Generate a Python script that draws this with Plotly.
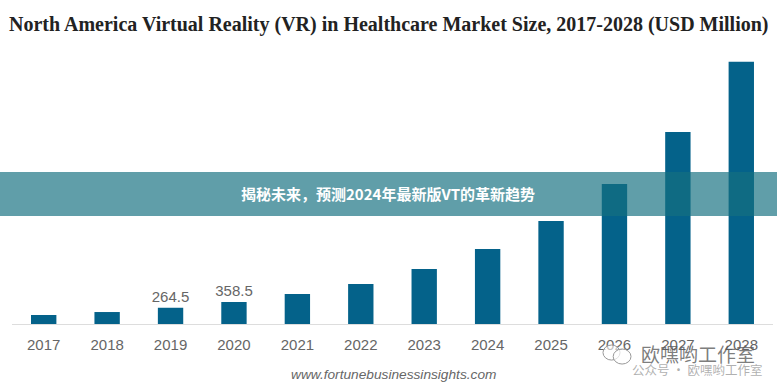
import plotly.graph_objects as go

years = ["2017", "2018", "2019", "2020", "2021", "2022", "2023", "2024", "2025", "2026", "2027", "2028"]
values = [147, 195, 264.5, 358.5, 489, 651, 896, 1221, 1678, 2280, 3127, 4270]
value_labels = ["", "", "264.5", "358.5", "", "", "", "", "", "", "", ""]
title_text = "North America Virtual Reality (VR) in Healthcare Market Size, 2017-2028 (USD Million)"
source_text = "www.fortunebusinessinsights.com"
banner_text = "揭秘未来，预测2024年最新版VT的革新趋势"
mark_main = "欧嘿哟工作室"
mark_sub = "公众号 · 欧嘿哟工作室"

fig = go.Figure(go.Bar(
    x=years, y=values, text=value_labels, textposition="outside", cliponaxis=False,
    constraintext="none",
    textfont=dict(family="Liberation Sans", size=15, color="#666666"),
    marker=dict(color="#04628A", line=dict(width=0)), width=0.4,
))
fig.update_layout(
    width=777, height=388, autosize=False, showlegend=False,
    margin=dict(l=12, r=4, t=40, b=64),
    paper_bgcolor="white", plot_bgcolor="white",
    xaxis=dict(type="category", showline=True, linecolor="#DDDDDD", linewidth=1, ticks="",
               ticklabelstandoff=7, showgrid=False,
               tickfont=dict(family="Liberation Sans", size=15, color="#666666")),
    yaxis=dict(range=[0, 4625], visible=False, showgrid=False),
    shapes=[
        dict(type="rect", xref="paper", yref="paper", x0=-0.02, x1=1.01, y0=(388-64-216)/284, y1=(388-64-172)/284,
             fillcolor="rgba(20,112,128,0.68)", line=dict(width=0), layer="above"),
        dict(type="circle", xref="paper", yref="paper", x0=0.7766, x1=0.799, y0=-0.127, y1=-0.074,
             fillcolor="rgba(255,255,255,0.6)", line=dict(color="#999999", width=1), layer="above"),
        dict(type="circle", xref="paper", yref="paper", x0=0.79, x1=0.8134, y0=-0.141, y1=-0.088,
             fillcolor="rgba(255,255,255,0.7)", line=dict(color="#999999", width=1), layer="above"),
    ],
    annotations=[
        dict(text=f"<b>{title_text}</b>", xref="paper", yref="paper", x=(388.5-12)/761, y=(324-25)/284, showarrow=False,
             xanchor="center", yanchor="middle",
             font=dict(family="Liberation Serif", size=20, color="#222222")),
        dict(text=f"<b>{banner_text}</b>", xref="paper", yref="paper", x=(388-12)/761, y=(324-194)/284, showarrow=False,
             xanchor="center", yanchor="middle", font=dict(family="Noto Sans CJK SC", size=15, color="white")),
        dict(text=f"<i>{source_text}</i>", xref="paper", yref="paper", x=(393-12)/761, y=(324-374)/284, showarrow=False,
             xanchor="center", yanchor="middle", font=dict(family="Liberation Sans", size=13.7, color="#666666")),
        dict(text=mark_main, xref="paper", yref="paper", x=(639-12)/761, y=(324-353)/284, showarrow=False,
             xanchor="left", yanchor="middle", font=dict(family="Noto Sans CJK SC", size=19, color="rgba(90,90,90,0.8)")),
        dict(text=mark_sub, xref="paper", yref="paper", x=(630-12)/761, y=(324-369)/284, showarrow=False,
             xanchor="left", yanchor="middle", font=dict(family="Noto Sans CJK SC", size=12.5, color="rgba(150,150,150,0.75)")),
    ],
)
fig.write_html("out.html", post_script="document.body.style.margin='0';", config={"displayModeBar": False})
